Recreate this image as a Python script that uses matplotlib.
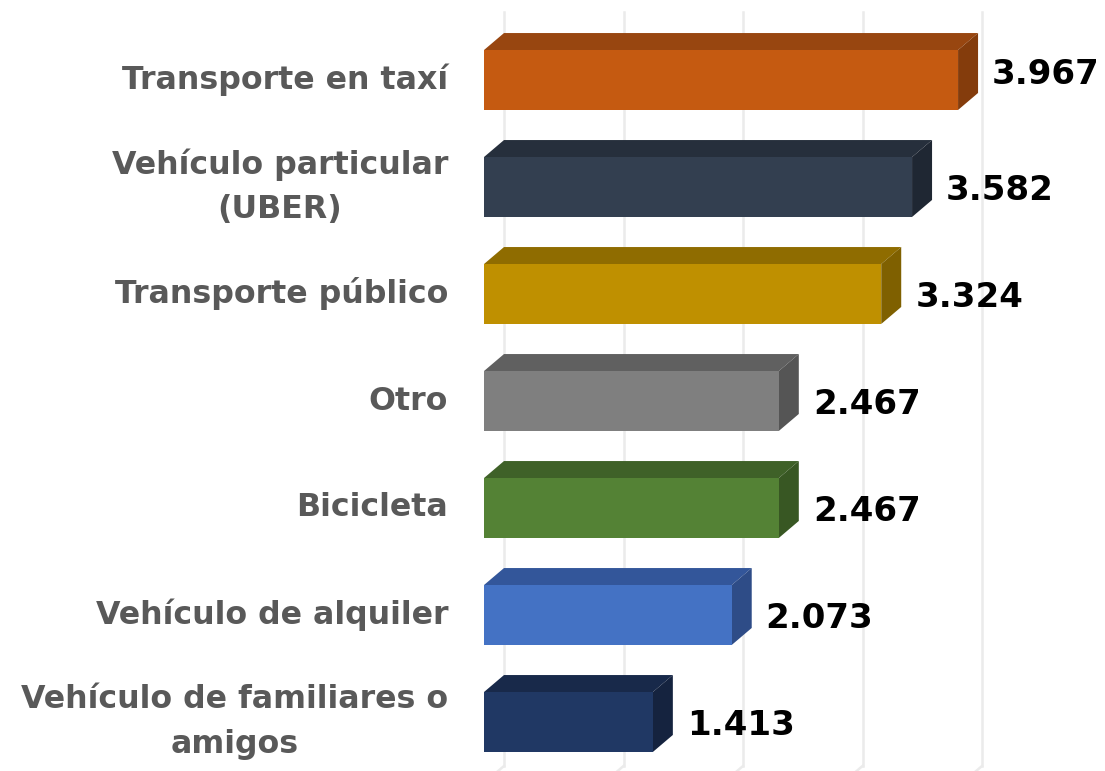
import matplotlib.pyplot as plt
from matplotlib.patches import Polygon

# datos
categorias = ["Transporte en taxí", "Vehículo particular\n(UBER)", "Transporte público",
              "Otro", "Bicicleta", "Vehículo de alquiler", "Vehículo de familiares o\namigos"]
valores = [3.967, 3.582, 3.324, 2.467, 2.467, 2.073, 1.413]
etiquetas = ["3.967", "3.582", "3.324", "2.467", "2.467", "2.073", "1.413"]
col_frente = ["#C55A11", "#333F50", "#BF9000", "#7F7F7F", "#548235", "#4472C4", "#203864"]
col_arriba = ["#984610", "#262F3C", "#8F6C00", "#606060", "#3F6128", "#33569A", "#18294A"]
col_lado = ["#843C0C", "#1F2733", "#7F6000", "#555555", "#385723", "#2E4C87", "#15233F"]
ticks_x = [0, 1, 2, 3, 4]

fig = plt.figure(figsize=(11.05, 7.71), dpi=100)
# 0 en x=484px, 1 unidad = 119.5px ; categorias cada 107px, la primera en y=80px
ax = fig.add_axes([484 / 1105, 0, 1 - 484 / 1105, 1])
ax.set_xlim(0, (1105 - 484) / 119.5)
ax.set_ylim((771 - 80) / 107, -80 / 107)
ax.axis("off")

dx = 20 / 119.5   # profundidad 3D
dy = 17 / 107
alto = 0.56

# lineas de la cuadricula (pared del fondo + suelo)
for t in ticks_x:
    ax.plot([t + dx, t + dx], [-68 / 107, (766 - 80) / 107], color="#ebebeb", lw=1.8, zorder=0)
    ax.plot([t + dx, t], [(766 - 80) / 107, (766 - 80) / 107 + dy], color="#ebebeb", lw=1.8, zorder=0)

ys = list(range(len(valores)))
ax.barh(ys, valores, height=alto, color=col_frente, edgecolor="none", zorder=3)

for y, v, ca, cl, lab, cat in zip(ys, valores, col_arriba, col_lado, etiquetas, categorias):
    top = y - alto / 2
    bot = y + alto / 2
    ax.add_patch(Polygon([(0, top), (dx, top - dy), (v + dx, top - dy), (v, top)],
                         closed=True, color=ca, lw=0, zorder=2))
    ax.add_patch(Polygon([(v, top), (v + dx, top - dy), (v + dx, bot - dy), (v, bot)],
                         closed=True, color=cl, lw=0, zorder=2))
    dy_txt = -0.05 if y == 0 else 0.03
    ax.text(v + 34 / 119.5, y + dy_txt, lab, ha="left", va="center", fontsize=24.5,
            fontweight="heavy", color="black", clip_on=False)
    ax.text(-36 / 119.5, y, cat, ha="right", va="center", fontsize=22.8,
            fontweight="bold", color="#595959", linespacing=1.55, multialignment="center",
            clip_on=False)

fig.savefig("out.png", dpi=100)
